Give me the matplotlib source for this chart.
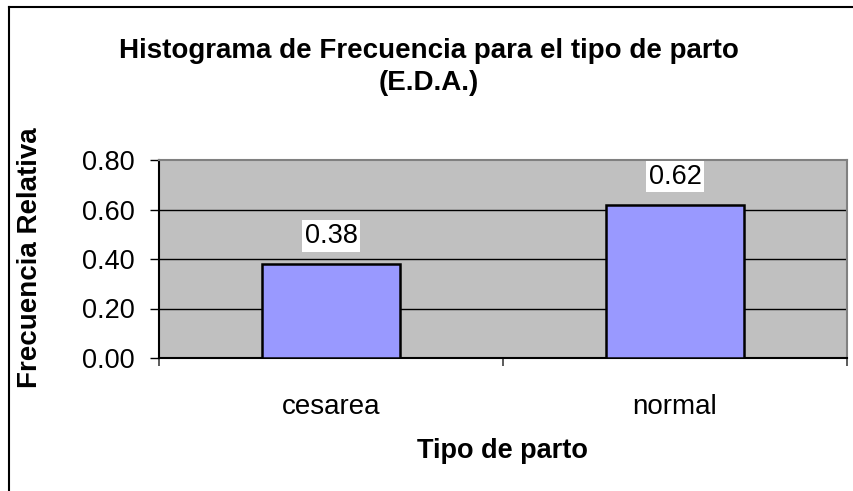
import matplotlib
matplotlib.use("Agg")
import matplotlib.pyplot as plt
from matplotlib.lines import Line2D

categories = ["cesarea", "normal"]
values = [0.38, 0.62]
value_labels = ["0.38", "0.62"]
yticks = [0.0, 0.2, 0.4, 0.6, 0.8]
ytick_labels = ["0.00", "0.20", "0.40", "0.60", "0.80"]

plt.rcParams['font.family'] = ['Liberation Sans', 'DejaVu Sans']

W, H = 854, 491
fig = plt.figure(figsize=(W / 100, H / 100), dpi=100)
fig.patch.set_facecolor("white")

L, R, T, B = 159, 847, 160, 358
ax = fig.add_axes([L / W, 1 - B / H, (R - L) / W, (B - T) / H])
ax.set_facecolor("#C0C0C0")

x = list(range(len(categories)))
ax.bar(x, values, width=0.4, color="#9999FF", edgecolor="black", linewidth=1.8, zorder=3)

ax.set_xlim(-0.5, len(categories) - 0.5)
ax.set_ylim(0, 0.8)

ax.set_yticks(yticks)
ax.set_yticklabels(ytick_labels, fontsize=19.5)
ax.set_xticks(x)
ax.set_xticklabels(categories, fontsize=20)
ax.set_xticks([i - 0.5 for i in range(len(categories) + 1)], minor=True)
ax.tick_params(axis="x", which="major", length=0, pad=26)
ax.tick_params(axis="x", which="minor", length=6, width=1.2, color="#404040", direction="out")
ax.tick_params(axis="y", length=6.5, width=1, direction="out", pad=11)

for yv in yticks[1:-1]:
    ax.axhline(yv, color="black", linewidth=1, zorder=1)

for s in ["left", "bottom"]:
    ax.spines[s].set_color("black")
    ax.spines[s].set_linewidth(1.5)
for s in ["top", "right"]:
    ax.spines[s].set_color("#808080")
    ax.spines[s].set_linewidth(1.5)

for xi, v, lab in zip(x, values, value_labels):
    ax.annotate(lab, (xi, v), xytext=(0, 20), textcoords="offset points",
                ha="center", va="center", fontsize=19.5, zorder=5,
                bbox=dict(boxstyle="square,pad=0.1", fc="white", ec="none"))

fig.text(429 / W, 1 - 51 / H, "Histograma de Frecuencia para el tipo de parto",
         ha="center", va="center", fontsize=20, fontweight="bold")
fig.text(429 / W, 1 - 83 / H, "(E.D.A.)",
         ha="center", va="center", fontsize=20, fontweight="bold")
fig.text(30 / W, 1 - 258 / H, "Frecuencia Relativa", rotation=90,
         ha="center", va="center", fontsize=20, fontweight="bold")
fig.text(502 / W, 1 - 451 / H, "Tipo de parto",
         ha="center", va="center", fontsize=19.5, fontweight="bold")

# outer chart border (top and left visible)
fig.add_artist(Line2D([9.5 / W, 9.5 / W], [0, 1 - 7 / H], transform=fig.transFigure,
                      color="black", linewidth=1.5))
fig.add_artist(Line2D([9.5 / W, 1], [1 - 7 / H, 1 - 7 / H], transform=fig.transFigure,
                      color="black", linewidth=1.5))

fig.savefig("out.png", dpi=100)
